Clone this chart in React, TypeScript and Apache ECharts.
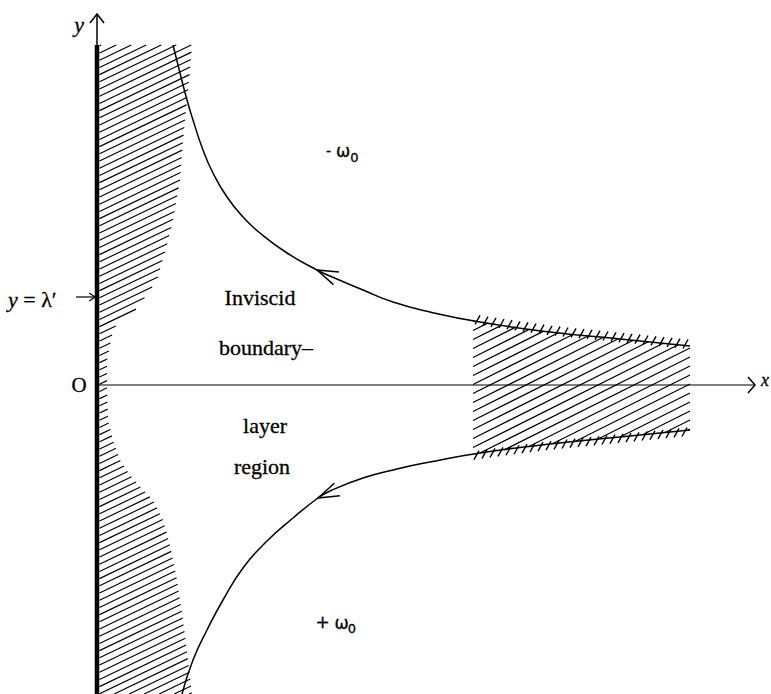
import React, { useEffect, useRef } from "react";
import * as echarts from "echarts";

type P = [number, number];

// Units: origin O where the wall meets the x-axis, 1 unit ≈ 100 px
const xRange: P = [-0.97, 6.74];
const yRange: P = [-3.09, 3.85];

const wallTop = 3.4;
const wallBottom = -3.09;
const yAxisEnd = 3.71;
const xAxisEnd = 6.58;
const lambdaPrime = 0.88;

// upper streamline (vorticity -ω0 side), left to right
const upperCurve: P[] = [
  [0.76, 3.4], [0.83, 3.12], [0.9, 2.85], [0.96, 2.65], [1.06, 2.35], [1.16, 2.12],
  [1.3, 1.88], [1.46, 1.68], [1.63, 1.52], [1.9, 1.32], [2.2, 1.15], [2.33, 1.09],
  [2.66, 0.95], [2.96, 0.83], [3.33, 0.73], [3.83, 0.63], [4.53, 0.53], [5.23, 0.46], [5.93, 0.39],
];
// lower streamline (+ω0 side), left to right
const lowerCurve: P[] = [
  [0.85, -3.09], [0.96, -2.75], [1.1, -2.45], [1.26, -2.15], [1.46, -1.83], [1.7, -1.56],
  [1.96, -1.33], [2.21, -1.13], [2.33, -1.06], [2.66, -0.93], [3.0, -0.84], [3.33, -0.77],
  [3.83, -0.68], [4.53, -0.59], [5.23, -0.52], [5.93, -0.45],
];
const upperArrowIndex = 10;
const lowerArrowIndex = 7;

// right edge of the hatched viscous layer on the wall, top to bottom
const wallLayerEdge: P[] = [
  [0.95, 3.4], [0.93, 3.15], [0.9, 2.85], [0.86, 2.45], [0.83, 2.05], [0.76, 1.65],
  [0.7, 1.4], [0.65, 1.23], [0.6, 1.05], [0.46, 0.85], [0.36, 0.72], [0.23, 0.65],
  [0.16, 0.55], [0.13, 0.4], [0.1, 0.25], [0.1, 0], [0.11, -0.35], [0.16, -0.55],
  [0.23, -0.75], [0.33, -0.9], [0.46, -1.05], [0.56, -1.15], [0.66, -1.35], [0.73, -1.6],
  [0.8, -1.95], [0.86, -2.35], [0.91, -2.75], [0.95, -3.09],
];
// x-extent of the hatched region between the streamlines
const rightRegionX: P = [3.76, 5.93];

function interp(curve: P[], x: number): number {
  for (let i = 0; i < curve.length - 1; i++) {
    const [x0, y0] = curve[i];
    const [x1, y1] = curve[i + 1];
    if (x >= x0 && x <= x1) return y0 + ((y1 - y0) * (x - x0)) / (x1 - x0);
  }
  return x < curve[0][0] ? curve[0][1] : curve[curve.length - 1][1];
}

function sliceCurve(curve: P[], a: number, b: number): P[] {
  const out: P[] = [[a, interp(curve, a)]];
  curve.forEach((p) => {
    if (p[0] > a && p[0] < b) out.push(p);
  });
  out.push([b, interp(curve, b)]);
  return out;
}

function hatchSegments(poly: number[][], slope: number, gap: number) {
  const f = (p: number[]) => p[1] - slope * p[0];
  let cMin = Infinity;
  let cMax = -Infinity;
  poly.forEach((p) => {
    const c = f(p);
    cMin = Math.min(cMin, c);
    cMax = Math.max(cMax, c);
  });
  const segs: number[][] = [];
  for (let c = Math.ceil(cMin / gap) * gap; c <= cMax; c += gap) {
    const xs: number[] = [];
    for (let i = 0; i < poly.length; i++) {
      const p1 = poly[i];
      const p2 = poly[(i + 1) % poly.length];
      const f1 = f(p1);
      const f2 = f(p2);
      if ((f1 <= c && f2 > c) || (f2 <= c && f1 > c)) {
        const t = (c - f1) / (f2 - f1);
        xs.push(p1[0] + t * (p2[0] - p1[0]));
      }
    }
    xs.sort((a, b) => a - b);
    for (let k = 0; k + 1 < xs.length; k += 2) {
      segs.push([xs[k], slope * xs[k] + c, xs[k + 1], slope * xs[k + 1] + c]);
    }
  }
  return segs;
}

function chevron(tip: number[], back: number[], len: number, half: number, lw = 1.5) {
  const dx = back[0] - tip[0];
  const dy = back[1] - tip[1];
  const L = Math.hypot(dx, dy) || 1;
  const ux = dx / L;
  const uy = dy / L;
  const rot = (a: number) => [
    tip[0] + len * (ux * Math.cos(a) - uy * Math.sin(a)),
    tip[1] + len * (ux * Math.sin(a) + uy * Math.cos(a)),
  ];
  return {
    type: "polyline",
    shape: { points: [rot(half), tip, rot(-half)] },
    style: { stroke: "#000", fill: "none", lineWidth: lw },
  };
}

const serif = '"Liberation Serif", "Times New Roman", serif';
const sans = '"DejaVu Sans", sans-serif';

function txt(x: number, y: number, text: string, font: string, align = "center", extra: any = {}) {
  return {
    type: "text",
    x,
    y,
    silent: true,
    style: {
      text,
      font,
      fill: "#000",
      align,
      verticalAlign: "middle",
      textAlign: align,
      textVerticalAlign: "middle",
      stroke: "#000",
      lineWidth: 0.3,
      ...extra,
    },
  };
}

export default function App() {
  const ref = useRef<HTMLDivElement>(null);
  useEffect(() => {
    if (!ref.current) return;
    const chart = echarts.init(ref.current, undefined, { renderer: "svg" });
    const blackLine = (w: number) => ({ color: "#000", width: w });

    const hatchSeries = {
      type: "custom",
      coordinateSystem: "cartesian2d",
      silent: true,
      clip: false,
      z: 1,
      data: [[0, 0]],
      renderItem: (_params: any, api: any) => {
        const px = (p: P) => api.coord(p);
        const leftPoly = [[0.025, wallTop] as P, ...wallLayerEdge, [0.025, wallBottom] as P].map(px);
        const top = sliceCurve(upperCurve, rightRegionX[0], rightRegionX[1]);
        const bot = sliceCurve(lowerCurve, rightRegionX[0], rightRegionX[1]).reverse();
        const rightPoly = [...top, ...bot].map(px);
        const children: any[] = [];
        const add = (segs: number[][], lw: number) =>
          segs.forEach((s) =>
            children.push({
              type: "line",
              shape: { x1: s[0], y1: s[1], x2: s[2], y2: s[3] },
              style: { stroke: "#000", lineWidth: lw },
            })
          );
        add(hatchSegments(leftPoly, -0.48, 7.2), 1.15);
        add(hatchSegments(rightPoly, -0.5, 9), 1.15);
        // short ticks marking the boundary-layer edges of the right region
        const x0 = px([rightRegionX[0], 0])[0];
        const x1 = px([rightRegionX[1], 0])[0];
        const ticks: number[][] = [];
        for (let X = x0 + 4; X <= x1 - 2; X += 8) {
          const dx = (X - x0) / 100 + rightRegionX[0];
          const pu = px([dx, interp(upperCurve, dx)]);
          ticks.push([pu[0] - 2, pu[1] + 3, pu[0] + 3, pu[1] - 6]);
          const pl = px([dx, interp(lowerCurve, dx)]);
          ticks.push([pl[0] - 3, pl[1] + 6, pl[0] + 2, pl[1] - 3]);
        }
        add(ticks, 1.4);
        return { type: "group", children };
      },
    };

    const arrowSeries = {
      type: "custom",
      coordinateSystem: "cartesian2d",
      silent: true,
      clip: false,
      z: 5,
      data: [[0, 0]],
      renderItem: (_params: any, api: any) => {
        const px = (p: P) => api.coord(p);
        const children: any[] = [];
        const ut = px(upperCurve[upperArrowIndex]);
        children.push(chevron(ut, px(upperCurve[upperArrowIndex + 2]), 22, (18 * Math.PI) / 180));
        const lt = px(lowerCurve[lowerArrowIndex]);
        children.push(chevron(lt, px(lowerCurve[lowerArrowIndex + 2]), 22, (18 * Math.PI) / 180));
        const yt = px([0, yAxisEnd]);
        children.push(chevron(yt, [yt[0], yt[1] + 10], 11.4, (38 * Math.PI) / 180));
        const xt = px([xAxisEnd, 0]);
        children.push(chevron(xt, [xt[0] - 10, xt[1]], 10.6, (49 * Math.PI) / 180));
        const lamTip = px([-0.02, lambdaPrime]);
        children.push(chevron(lamTip, [lamTip[0] - 10, lamTip[1]], 7, (34 * Math.PI) / 180, 1.2));
        return { type: "group", children };
      },
    };

    const lineSeries = (data: P[], width: number, smooth: number | boolean = false, z = 3) => ({
      type: "line",
      data,
      smooth,
      showSymbol: false,
      symbol: "none",
      silent: true,
      clip: false,
      z,
      lineStyle: blackLine(width),
    });

    chart.setOption({
      animation: false,
      backgroundColor: "#fff",
      grid: { left: 0, right: 0, top: 0, bottom: 0 },
      xAxis: { type: "value", min: xRange[0], max: xRange[1], show: false },
      yAxis: { type: "value", min: yRange[0], max: yRange[1], show: false },
      series: [
        hatchSeries,
        lineSeries(upperCurve, 1.5, 0.5),
        lineSeries(lowerCurve, 1.5, 0.5),
        lineSeries([[0, wallBottom], [0, wallTop]], 4.5, false, 4),
        lineSeries([[0, wallTop], [0, yAxisEnd]], 1.5, false, 4),
        lineSeries([[0, 0], [xAxisEnd, 0]], 1.2, false, 4),
        lineSeries([[-0.21, lambdaPrime], [-0.03, lambdaPrime]], 1.2, false, 4),
        arrowSeries,
      ],
      graphic: [
        txt(79, 24, "y", `italic 22px ${serif}`),
        txt(79, 385, "O", `21px ${serif}`),
        txt(761, 380, "x", `italic 18px ${serif}`, "left"),
        txt(8, 299, "{i|y} = λ′", `22px ${serif}`, "left", {
          rich: { i: { fontStyle: "italic", font: `italic 22px ${serif}` } },
        }),
        txt(260, 297.5, "Inviscid", `22px ${serif}`),
        txt(266, 347.5, "boundary–", `22px ${serif}`),
        txt(265, 425.5, "layer", `22px ${serif}`),
        txt(262, 466.5, "region", `22px ${serif}`),
        txt(328.5, 151, "-", `14px ${sans}`),
        txt(343, 151, "ω", `17px ${sans}`),
        txt(354.5, 157, "0", `13px ${sans}`),
        txt(322.5, 622, "+", `17px ${sans}`),
        txt(341.5, 623, "ω", `17px ${sans}`),
        txt(352, 628, "0", `13px ${sans}`),
      ],
    });
    return () => chart.dispose();
  }, []);
  return (
    <div
      ref={ref}
      style={{ position: "fixed", left: 0, top: 0, width: 771, height: 694, background: "#fff" }}
    />
  );
}
